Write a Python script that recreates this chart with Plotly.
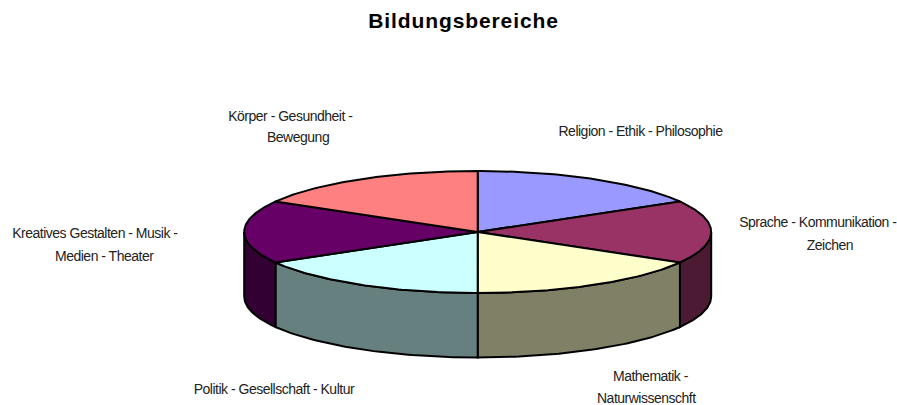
import numpy as np
import plotly.graph_objects as go

title = "Bildungsbereiche"
categories = ["Religion - Ethik - Philosophie", "Sprache - Kommunikation -|Zeichen",
              "Mathematik -|Naturwissenschft", "Politik - Gesellschaft - Kultur",
              "Kreatives Gestalten - Musik -|Medien - Theater", "Körper - Gesundheit -|Bewegung"]
values = [1, 1, 1, 1, 1, 1]
top_colors = ["#9999FF", "#993366", "#FFFFCC", "#CCFFFF", "#660066", "#FF8080"]
side_colors = ["#4D4D80", "#4D1A33", "#808066", "#668080", "#330033", "#804040"]
label_x = [[640], [818, 830], [650, 646], [274], [95, 104], [290, 298]]
label_y = [[131], [222, 245], [376, 398], [389], [233, 256], [116, 137]]

CX, CY, RX, RY, DEPTH = 477.7, 232, 233.5, 61, 64.5

def ell(a):
    return CX + RX * np.sin(a), CY - RY * np.cos(a)

fracs = np.array(values, dtype=float)
edges = np.concatenate([[0], np.cumsum(fracs) / fracs.sum()]) * 2 * np.pi

fig = go.Figure()
line = dict(color="black", width=2)

# sides: only the front half of the ellipse (90°..270°) is visible
for i in range(len(values)):
    a0, a1 = max(edges[i], np.pi / 2), min(edges[i + 1], 3 * np.pi / 2)
    if a1 <= a0:
        continue
    t = np.linspace(a0, a1, 60)
    x, y = ell(t)
    xs = np.concatenate([x, x[::-1], x[:1]])
    ys = np.concatenate([y, y[::-1] + DEPTH, y[:1]])
    fig.add_trace(go.Scatter(x=xs, y=ys, mode="lines", fill="toself",
                             fillcolor=side_colors[i], line=line, hoverinfo="skip"))

# top faces
for i in range(len(values)):
    t = np.linspace(edges[i], edges[i + 1], 80)
    x, y = ell(t)
    xs = np.concatenate([[CX], x, [CX]])
    ys = np.concatenate([[CY], y, [CY]])
    fig.add_trace(go.Scatter(x=xs, y=ys, mode="lines", fill="toself",
                             fillcolor=top_colors[i], line=line, hoverinfo="skip"))

for c, lxs, lys in zip(categories, label_x, label_y):
    for part, lx, ly in zip(c.split("|"), lxs, lys):
        fig.add_annotation(x=lx, y=ly, text=part, showarrow=False, align="center",
                           xanchor="center", yanchor="middle",
                           font=dict(family="Liberation Sans", size=14, color="#222222"))

fig.update_layout(
    title=dict(text=f"<b>{title}</b>", x=463.5 / 897, xanchor="center", y=1 - 21 / 405, yanchor="middle",
               font=dict(family="Liberation Sans", size=21, color="black")),
    width=897, height=405, margin=dict(l=0, r=0, t=0, b=0),
    paper_bgcolor="white", plot_bgcolor="white", showlegend=False,
    xaxis=dict(range=[0, 897], visible=False, fixedrange=True),
    yaxis=dict(range=[405, 0], visible=False, fixedrange=True),
)
css = ("document.body.style.margin='0';"
       "var s=document.createElement('style');"
       "s.textContent='.annotation-text{letter-spacing:-0.5px}.gtitle{letter-spacing:0.9px}';"
       "document.head.appendChild(s);")
fig.write_html("out.html", config=dict(displayModeBar=False), post_script=css)
